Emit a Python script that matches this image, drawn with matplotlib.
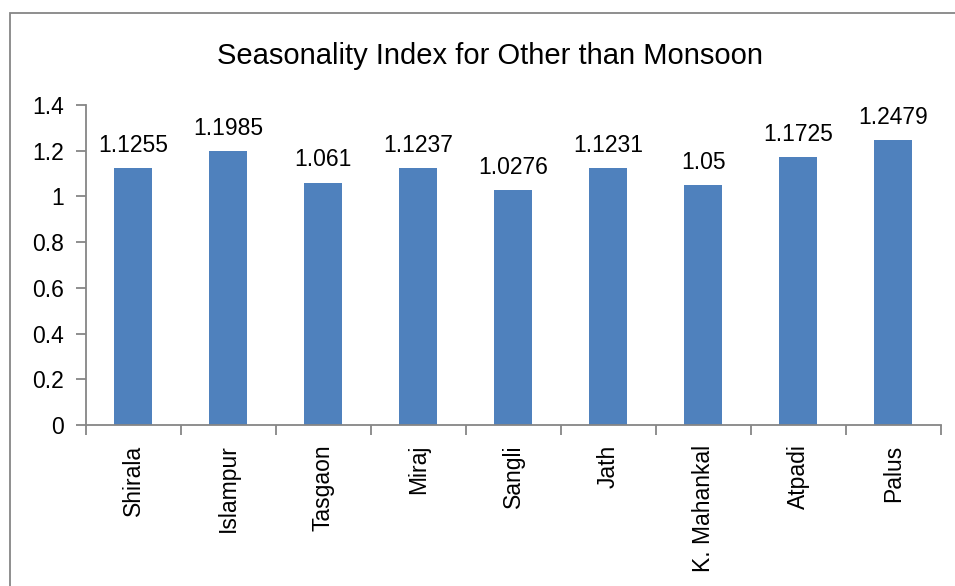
import matplotlib
matplotlib.use('Agg')
import matplotlib.pyplot as plt
from matplotlib.patches import Rectangle
import numpy as np

# Data
stations = ['Shirala', 'Islampur', 'Tasgaon', 'Miraj', 'Sangli', 'Jath',
            'K. Mahankal', 'Atpadi', 'Palus']
index_values = [1.1255, 1.1985, 1.061, 1.1237, 1.0276, 1.1231, 1.05, 1.1725, 1.2479]
value_labels = ['1.1255', '1.1985', '1.061', '1.1237', '1.0276', '1.1231', '1.05',
                '1.1725', '1.2479']
y_ticks = [0, 0.2, 0.4, 0.6, 0.8, 1.0, 1.2, 1.4]
y_tick_labels = ['0', '0.2', '0.4', '0.6', '0.8', '1', '1.2', '1.4']

plt.rcParams['font.family'] = ['Liberation Sans', 'DejaVu Sans']

axis_grey = '#868686'
bar_blue = '#4f81bd'

fig = plt.figure(figsize=(9.55, 5.86), dpi=100)
ax = fig.add_axes([0.090, 0.2747, 0.895, 0.5461])

x = np.arange(len(stations))
ax.bar(x, index_values, width=0.4, color=bar_blue, zorder=2)

for xi, v, lab in zip(x, index_values, value_labels):
    ax.annotate(lab, (xi, v), xytext=(0, 8), textcoords='offset points',
                ha='center', va='bottom', fontsize=16.5, color='black')

ax.set_xlim(-0.5, len(stations) - 0.5)
ax.set_ylim(0, 1.4)
ax.set_yticks(y_ticks)
ax.set_yticklabels(y_tick_labels, fontsize=16.5)

ax.set_xticks(x)
ax.set_xticklabels(stations, rotation=90, fontsize=16.5, va='top')
ax.set_xticks(np.arange(-0.5, len(stations)), minor=True)
ax.tick_params(axis='x', which='major', length=0, pad=14)
ax.tick_params(axis='x', which='minor', length=7, width=1.3, color=axis_grey)
ax.tick_params(axis='y', length=7, width=1.3, color=axis_grey, pad=9)

for side in ['top', 'right']:
    ax.spines[side].set_visible(False)
for side in ['left', 'bottom']:
    ax.spines[side].set_color(axis_grey)
    ax.spines[side].set_linewidth(1.3)

fig.text(0.513, 0.905, 'Seasonality Index for Other than Monsoon',
         ha='center', va='center', fontsize=21)

# outer chart frame
fig.patches.append(Rectangle((10 / 955, -0.05), 1.2, 1 - 13 / 586 + 0.05,
                             transform=fig.transFigure, fill=False,
                             edgecolor=axis_grey, linewidth=1.3))

fig.savefig('out.png', dpi=100)
